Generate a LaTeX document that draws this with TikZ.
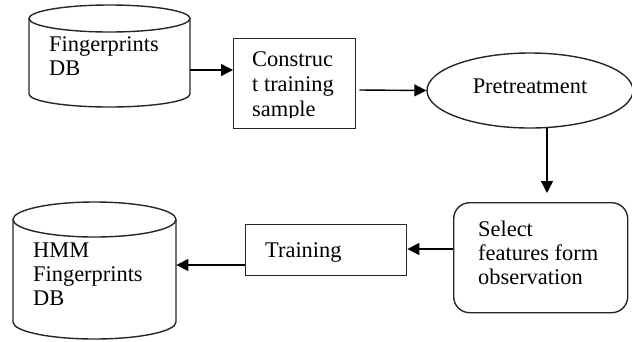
\documentclass[tikz,border=0pt]{standalone}
\usepackage{fontspec}
\setmainfont{Liberation Serif}
\usetikzlibrary{arrows.meta,shapes.geometric,calc}
\begin{document}
\begin{tikzpicture}[x=1pt,y=-1pt,
  shapeline/.style={draw=black!85,line width=1.4pt},
  conn/.style={draw=black,line width=1.4pt,-{Triangle[length=12pt,width=12pt]}},
  lbl/.style={inner sep=0pt,anchor=north west,align=left,font=\fontsize{22.4}{24.3}\selectfont},
  boxnode/.style={shapeline,rectangle,inner sep=0pt,anchor=north west}]
\useasboundingbox (0,0) rectangle (632,341);
% --- cylinder 1 : Fingerprints DB
\node[inner sep=0pt,minimum width=161pt,minimum height=75.5pt,anchor=north west] (db1) at (29,18.5) {};
\draw[shapeline] (109.5,18.5) ellipse [x radius=80.5, y radius=13.5];
\draw[shapeline] (29,18.5) -- (29,94) arc[start angle=180,end angle=0,x radius=80.5,y radius=13] -- (190,18.5);
\node[lbl] (db1t) at (49,36.5) {Fingerprints\\DB};
% --- construct box
\node[boxnode,minimum width=122pt,minimum height=90pt] (cons) at (233,38) {};
\begin{scope}
\clip (234,39) rectangle (354,117.3);
\node[lbl,font=\fontsize{22.4}{25}\selectfont] (const) at (252,51.5) {Construc\\t training\\sample};
\end{scope}
% --- pretreatment ellipse
\node[shapeline,ellipse,inner sep=0pt,minimum width=206pt,minimum height=75pt] (pre) at (530,90.5) {};
\node[inner sep=0pt,anchor=base,font=\fontsize{22.4}{24}\selectfont] (pret) at (530,93) {Pretreatment};
% --- select features rounded box
\node[boxnode,rounded corners=16pt,minimum width=174pt,minimum height=110pt] (sel) at (453,202) {};
\node[lbl] (selt) at (478,220.5) {Select\\features form\\observation};
% --- training box
\node[boxnode,minimum width=161pt,minimum height=51pt] (train) at (245,224) {};
\node[inner sep=0pt,anchor=base west,font=\fontsize{22.4}{24}\selectfont] (traint) at (265,257) {Training};
% --- cylinder 2 : HMM Fingerprints DB
\node[inner sep=0pt,minimum width=163pt,minimum height=102.5pt,anchor=north west] (db2) at (13,219.5) {};
\draw[shapeline] (94.5,219.5) ellipse [x radius=81.5, y radius=17.5];
\draw[shapeline] (13,219.5) -- (13,322) arc[start angle=180,end angle=0,x radius=81.5,y radius=17] -- (176,219.5);
\node[lbl] (db2t) at (33,242.5) {HMM\\Fingerprints\\DB};
% --- connectors
\coordinate (a1s) at (db1.east |- 0,70);
\coordinate (a1e) at (cons.west |- 0,70);
\draw[conn] (a1s) -- (a1e);
\coordinate (a2s) at ($(cons.east |- 0,90)+(3,0)$);
\draw[conn] (a2s) -- (pre.west);
\coordinate (a3s) at (547,128);
\coordinate (a3e) at (547,193);
\draw[conn] (a3s) -- (a3e);
\coordinate (a4s) at (sel.west |- 0,249);
\coordinate (a4e) at (train.east |- 0,249);
\draw[conn] (a4s) -- (a4e);
\coordinate (a5s) at (train.west |- 0,265);
\coordinate (a5e) at (db2.east |- 0,265);
\draw[conn] (a5s) -- (a5e);
\end{tikzpicture}
\end{document}
